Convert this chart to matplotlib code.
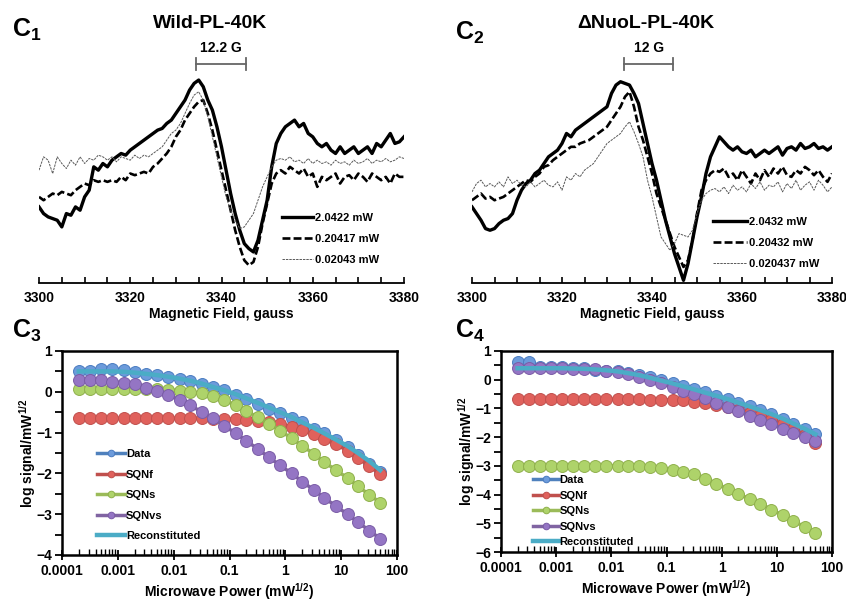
import matplotlib
matplotlib.use("Agg")
import matplotlib.pyplot as plt
from matplotlib.ticker import FixedLocator, LogLocator, NullFormatter, FuncFormatter, MultipleLocator

plt.rcParams['font.family'] = ['Liberation Sans', 'DejaVu Sans']
plt.rcParams['font.weight'] = 'bold'
plt.rcParams['mathtext.fontset'] = 'custom'
plt.rcParams['mathtext.rm'] = 'Liberation Sans:bold'
plt.rcParams['mathtext.bf'] = 'Liberation Sans:bold'
plt.rcParams['mathtext.default'] = 'rm'

# ---- EPR spectra (arbitrary units), field 3300..3380 G, 1 G step ----
field = list(range(3300, 3381))

wild_high = [-20, -40, -50, -55, -60, -80, -40, -45, -20, -30,
             10, 30, 100, 90, 110, 100, 120, 130, 140, 135,
             150, 160, 170, 180, 190, 200, 210, 215, 230, 240,
             260, 280, 300, 330, 350, 360, 340, 300, 270, 220,
             160, 90, 20, -40, -90, -130, -145, -155, -120, -60,
             0, 100, 170, 200, 220, 230, 240, 220, 230, 200,
             190, 170, 160, 170, 150, 140, 160, 140, 150, 160,
             140, 150, 160, 140, 170, 160, 180, 200, 170, 175,
             190]
wild_mid = [10, 0, 10, 20, 15, 25, 20, 15, 30, 40,
            50, 45, 60, 55, 60, 55, 60, 55, 70, 60,
            80, 75, 80, 85, 80, 100, 110, 125, 140, 160,
            190, 210, 240, 260, 280, 295, 300, 260, 210, 150,
            90, 30, -30, -90, -140, -180, -195, -185, -140, -70,
            -10, 50, 80, 90, 80, 100, 90, 80, 95, 70,
            80, 40, 70, 60, 70, 80, 50, 70, 75, 60,
            80, 70, 55, 80, 70, 60, 70, 50, 80, 70,
            70]
wild_low = [90, 130, 120, 80, 130, 110, 95, 120, 105, 130,
            110, 125, 120, 135, 130, 120, 130, 115, 130, 125,
            120, 135, 125, 135, 130, 140, 150, 160, 180, 200,
            210, 230, 260, 290, 315, 325, 300, 250, 190, 130,
            70, 10, -30, -60, -85, -80, -60, -40, 0, 40,
            70, 100, 120, 125, 120, 130, 115, 120, 110, 125,
            110, 120, 110, 115, 105, 120, 110, 115, 105, 120,
            110, 115, 125, 110, 120, 115, 125, 115, 120, 130,
            125]

nuol_high = [-20, -40, -60, -85, -90, -85, -70, -60, -55, -40,
             0, 30, 50, 60, 80, 90, 110, 130, 140, 150,
             170, 200, 190, 210, 220, 230, 240, 250, 260, 270,
             280, 320, 345, 355, 350, 345, 320, 290, 230, 170,
             110, 60, 0, -60, -110, -160, -200, -240, -190, -120,
             -50, 10, 80, 130, 160, 190, 175, 160, 150, 160,
             145, 140, 150, 130, 140, 150, 140, 150, 160, 135,
             155, 160, 150, 170, 155, 160, 170, 155, 160, 150,
             160]
nuol_mid = [0, 10, 20, 5, 10, 0, 5, 10, 20, 30,
            40, 50, 60, 55, 70, 80, 100, 105, 120, 130,
            140, 150, 160, 160, 170, 175, 180, 190, 200, 210,
            220, 240, 260, 280, 310, 325, 280, 220, 180, 130,
            80, 20, -20, -60, -100, -140, -170, -200, -180, -120,
            -40, 30, 60, 80, 90, 85, 95, 70, 80, 60,
            90, 70, 50, 80, 60, 90, 70, 95, 80, 100,
            75, 70, 90, 80, 100, 90, 75, 90, 70, 55,
            80]
nuol_low = [25, 50, 60, 40, 50, 40, 55, 40, 70, 50,
            60, 45, 40, 55, 40, 50, 60, 45, 40, 55,
            30, 70, 60, 80, 70, 90, 100, 110, 130, 150,
            170, 180, 190, 200, 220, 235, 205, 170, 130, 60,
            10, -50, -110, -130, -150, -130, -100, -105, -110, -90,
            -40, 0, 20, 30, 35, 25, 40, 20, 45, 30,
            40, 25, 50, 35, 55, 30, 45, 40, 55, 25,
            50, 35, 60, 30, 45, 55, 30, 60, 45, 25,
            40]

wild_labels = ['2.0422 mW', '0.20417 mW', '0.02043 mW']
nuol_labels = ['2.0432 mW', '0.20432 mW', '0.020437 mW']

# ---- power saturation curves ----
power = [0.0002, 0.00032, 0.0005, 0.0008, 0.0013, 0.002, 0.0032, 0.005, 0.008, 0.013,
         0.02, 0.032, 0.05, 0.08, 0.13, 0.2, 0.32, 0.5, 0.8, 1.3,
         2, 3.2, 5, 8, 13, 20, 32, 50]

c3_data = [0.51, 0.51, 0.57, 0.57, 0.53, 0.49, 0.43, 0.40, 0.36, 0.32,
           0.27, 0.18, 0.12, 0.04, -0.08, -0.18, -0.29, -0.41, -0.53, -0.63,
           -0.75, -0.90, -1.02, -1.17, -1.35, -1.55, -1.77, -1.96]
c3_sqnf = [-0.65, -0.65, -0.65, -0.65, -0.65, -0.65, -0.65, -0.65, -0.65, -0.65,
           -0.65, -0.65, -0.66, -0.66, -0.67, -0.69, -0.72, -0.75, -0.79, -0.86,
           -0.94, -1.04, -1.16, -1.29, -1.44, -1.62, -1.82, -2.02]
c3_sqns = [0.08, 0.08, 0.08, 0.08, 0.08, 0.07, 0.07, 0.06, 0.05, 0.03,
           0.0, -0.04, -0.11, -0.2, -0.33, -0.47, -0.62, -0.78, -0.95, -1.14,
           -1.32, -1.52, -1.72, -1.92, -2.11, -2.32, -2.52, -2.72]
c3_sqnvs = [0.3, 0.3, 0.28, 0.25, 0.22, 0.18, 0.1, 0.02, -0.08, -0.2,
            -0.33, -0.5, -0.65, -0.83, -1.02, -1.2, -1.4, -1.6, -1.8, -2.0,
            -2.2, -2.4, -2.6, -2.8, -3.0, -3.2, -3.4, -3.6]
c3_recon = [0.5, 0.5, 0.5, 0.5, 0.49, 0.47, 0.44, 0.41, 0.37, 0.32,
            0.27, 0.2, 0.12, 0.04, -0.06, -0.16, -0.27, -0.38, -0.5, -0.62,
            -0.75, -0.88, -1.02, -1.17, -1.33, -1.5, -1.7, -1.92]

c4_data = [0.6, 0.6, 0.45, 0.45, 0.45, 0.42, 0.4, 0.35, 0.32, 0.3,
           0.22, 0.18, 0.08, -0.02, -0.12, -0.22, -0.33, -0.43, -0.55, -0.67,
           -0.8, -0.92, -1.05, -1.2, -1.38, -1.55, -1.72, -1.9]
c4_sqnf = [-0.68, -0.68, -0.68, -0.68, -0.68, -0.68, -0.68, -0.68, -0.68, -0.68,
           -0.68, -0.68, -0.69, -0.7, -0.7, -0.72, -0.78, -0.82, -0.87, -0.95,
           -1.05, -1.15, -1.27, -1.4, -1.55, -1.72, -1.92, -2.2]
c4_sqns = [-3.0, -3.0, -3.0, -3.0, -3.0, -3.0, -3.0, -3.0, -3.0, -3.0,
           -3.0, -3.02, -3.05, -3.08, -3.13, -3.2, -3.3, -3.45, -3.62, -3.8,
           -3.97, -4.15, -4.32, -4.52, -4.72, -4.93, -5.12, -5.35]
c4_sqnvs = [0.4, 0.4, 0.4, 0.4, 0.4, 0.39, 0.38, 0.36, 0.32, 0.27,
            0.2, 0.1, 0.0, -0.12, -0.25, -0.38, -0.5, -0.65, -0.8, -0.95,
            -1.1, -1.25, -1.4, -1.55, -1.7, -1.85, -2.0, -2.15]
c4_recon = [0.4, 0.4, 0.4, 0.4, 0.4, 0.39, 0.38, 0.36, 0.33, 0.29,
            0.23, 0.16, 0.07, -0.03, -0.13, -0.23, -0.34, -0.45, -0.56, -0.68,
            -0.8, -0.93, -1.06, -1.2, -1.36, -1.53, -1.71, -1.9]

series_names = ['Data', 'SQNf', 'SQNs', 'SQNvs', 'Reconstituted']
face = ['#6C9BDB', '#E0615C', '#AED36A', '#9475C4']
edge = ['#4A7CC0', '#C0504D', '#8FB04C', '#7A5CA6']
line_col = ['#4F81BD', '#C0504D', '#9BBB59', '#8064A2', '#4BACC6']

fig = plt.figure(figsize=(8.46, 6.01), dpi=100)
W, H = 846.0, 601.0


def px_axes(x0, y0, x1, y1):
    return fig.add_axes([x0 / W, 1 - y1 / H, (x1 - x0) / W, (y1 - y0) / H])


def spectrum(ax, traces, labels, bar, bar_text, leg_xy, hl):
    styles = [dict(color='k', lw=2.4, ls='-'),
              dict(color='k', lw=1.9, ls=(0, (3, 1.2))),
              dict(color='0.35', lw=0.7, ls=(0, (2.5, 1)))]
    for tr, lab, st in zip(traces, labels, styles):
        ax.plot(field, tr, label=lab, **st)
    ax.set_xlim(3300, 3380)
    ax.set_ylim(-248, 480)
    for s in ['left', 'right', 'top']:
        ax.spines[s].set_visible(False)
    ax.spines['bottom'].set_linewidth(1.3)
    ax.set_yticks([])
    ax.xaxis.set_major_locator(FixedLocator([3300, 3320, 3340, 3360, 3380]))
    ax.xaxis.set_minor_locator(MultipleLocator(5))
    ax.tick_params(axis='x', which='both', direction='in', length=4, width=1.2, pad=6, labelsize=10)
    ax.set_xlabel('Magnetic Field, gauss', fontsize=10, fontweight='bold', labelpad=1)
    # scale bar
    ax.plot(bar, [407, 407], color='0.4', lw=1.3, clip_on=False)
    for b in bar:
        ax.plot([b, b], [389, 425], color='0.4', lw=1.3, clip_on=False)
    ax.text(sum(bar) / 2, 455, bar_text, ha='center', va='center', fontsize=10,
            fontweight='bold', clip_on=False)
    ax.legend(loc='upper left', bbox_to_anchor=(leg_xy[0] / W, 1 - leg_xy[1] / H),
              bbox_transform=fig.transFigure, frameon=False,
              handlelength=hl, handletextpad=0.15, borderpad=0, borderaxespad=0,
              labelspacing=1.0, prop={'weight': 'bold', 'size': 8})


ax1 = px_axes(39, 40, 404, 283)
spectrum(ax1, [wild_high, wild_mid, wild_low], wild_labels, [3334.5, 3345.4], '12.2 G', (282, 213), 2.8)
ax2 = px_axes(472, 40, 832, 283)
spectrum(ax2, [nuol_high, nuol_mid, nuol_low], nuol_labels, [3333.8, 3344.7], '12 G', (713, 217), 3.1)

fmt = FuncFormatter(lambda v, p: {1e-4: '0.0001', 1e-3: '0.001', 1e-2: '0.01', 1e-1: '0.1',
                                  1: '1', 10: '10', 100: '100'}.get(round(v, 6), ''))


def saturation(ax, ys, ymin, leg_xy, spacing, hl):
    for i in range(4):
        ax.plot(power, ys[i], color=line_col[i], lw=2.5, marker='o', ms=8.6,
                mfc=face[i], mec=edge[i], mew=0.7, label=series_names[i])
    ax.plot(power, ys[4], color=line_col[4], lw=3.2, label=series_names[4])
    ax.set_xscale('log')
    ax.set_xlim(1e-4, 100)
    ax.set_ylim(ymin, 1)
    ax.xaxis.set_major_locator(FixedLocator([1e-4, 1e-3, 1e-2, 1e-1, 1, 10, 100]))
    ax.xaxis.set_major_formatter(fmt)
    ax.xaxis.set_minor_locator(LogLocator(base=10, subs=range(2, 10), numticks=20))
    ax.xaxis.set_minor_formatter(NullFormatter())
    ax.yaxis.set_major_locator(MultipleLocator(1))
    ax.yaxis.set_minor_locator(MultipleLocator(0.5))
    ax.tick_params(axis='x', which='major', direction='inout', length=7, width=1.3, labelsize=10, pad=3)
    ax.tick_params(axis='x', which='minor', direction='in', length=4, width=1)
    ax.tick_params(axis='y', which='major', direction='out', length=5, width=1.3, labelsize=10, pad=2)
    ax.tick_params(axis='y', which='minor', direction='out', length=5, width=1.3)
    for s in ax.spines.values():
        s.set_linewidth(1.8)
    ax.set_ylabel('log signal/mW$^{1/2}$', fontsize=10, fontweight='bold', labelpad=-1)
    ax.set_xlabel('Microwave Power (mW$^{1/2}$)', fontsize=10, fontweight='bold', labelpad=2)
    ax.legend(loc='upper left', bbox_to_anchor=(leg_xy[0] / W, 1 - leg_xy[1] / H),
              bbox_transform=fig.transFigure, frameon=False, markerscale=0.55,
              handlelength=hl, handletextpad=0.1, borderpad=0, borderaxespad=0,
              labelspacing=spacing, prop={'weight': 'bold', 'size': 8})


ax3 = px_axes(62, 351, 397, 555)
saturation(ax3, [c3_data, c3_sqnf, c3_sqns, c3_sqnvs, c3_recon], -4, (97, 449), 0.95, 2.5)
ax4 = px_axes(501, 351, 832, 552)
saturation(ax4, [c4_data, c4_sqnf, c4_sqns, c4_sqnvs, c4_recon], -6, (533, 475), 0.5, 2.3)

# titles and panel labels
fig.text(210 / W, 1 - 24 / H, 'Wild-PL-40K', ha='center', va='center', fontsize=14, fontweight='bold')
fig.text(646 / W, 1 - 24 / H, '\u0394NuoL-PL-40K', ha='center', va='center', fontsize=14, fontweight='bold')
for x, y, n in [(12, 37, '1'), (455, 40, '2'), (12, 338, '3'), (455, 338, '4')]:
    fig.text(x / W, 1 - y / H, 'C$_{%s}$' % n, ha='left', va='baseline', fontsize=18, fontweight='bold')

fig.savefig('out.png', dpi=100)
